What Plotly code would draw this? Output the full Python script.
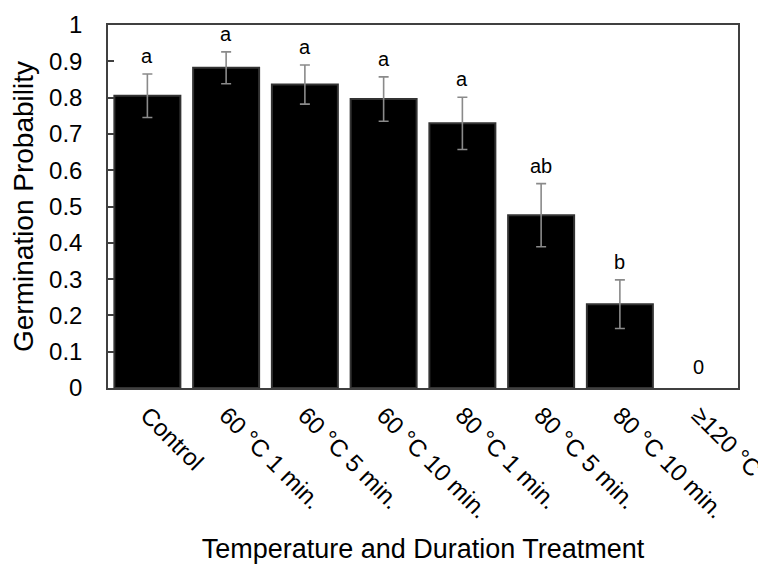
import plotly.graph_objects as go

categories = ["Control", "60 °C 1 min.", "60 °C 5 min.", "60 °C 10 min.",
              "80 °C 1 min.", "80 °C 5 min.", "80 °C 10 min.", "≥120 °C"]
germination = [0.805, 0.882, 0.836, 0.796, 0.729, 0.476, 0.231, 0.0]
std_err = [0.060, 0.044, 0.054, 0.061, 0.072, 0.087, 0.067, None]
letters = ["a", "a", "a", "a", "a", "ab", "b", "0"]
y_ticks = [0, 0.1, 0.2, 0.3, 0.4, 0.5, 0.6, 0.7, 0.8, 0.9, 1]
y_tick_text = ["0", "0.1", "0.2", "0.3", "0.4", "0.5", "0.6", "0.7", "0.8", "0.9", "1"]

FONT = "Liberation Sans, Arial, sans-serif"

fig = go.Figure()
fig.add_trace(go.Bar(
    x=categories,
    y=germination,
    marker=dict(color="black",
                line=dict(color="#333333",
                          width=[2 if v > 0 else 0 for v in germination])),
    showlegend=False,
))

# error bars only where a standard error exists
err_idx = [i for i, e in enumerate(std_err) if e is not None]
fig.add_trace(go.Scatter(
    x=[categories[i] for i in err_idx],
    y=[germination[i] for i in err_idx],
    mode="markers",
    marker=dict(size=1, opacity=0),
    error_y=dict(type="data", array=[std_err[i] for i in err_idx], visible=True,
                 color="#8a8a8a", thickness=1.6, width=5),
    showlegend=False, hoverinfo="skip",
))

for cat, v, e, lab in zip(categories, germination, std_err, letters):
    top = v + (e or 0)
    fig.add_annotation(x=cat, y=top, text=lab, showarrow=False,
                       yanchor="bottom", yshift=5 if e else 8,
                       font=dict(family=FONT, size=20, color="black"))

fig.update_layout(
    width=766, height=566,
    margin=dict(l=100, r=36, t=17, b=186),
    paper_bgcolor="white", plot_bgcolor="white",
    bargap=0.162,
    font=dict(family=FONT, color="black"),
    xaxis=dict(
        tickangle=45,
        tickfont=dict(family=FONT, size=24, color="black"),
        showline=True, linecolor="#404040", linewidth=1.5, mirror=True,
        ticks="", showgrid=False,
        ticklabelstandoff=2,
        title=dict(text="Temperature and Duration Treatment",
                   font=dict(family=FONT, size=27, color="black"), standoff=17),
        automargin=False,
    ),
    yaxis=dict(
        range=[0, 1],
        tickvals=y_ticks, ticktext=y_tick_text,
        tickfont=dict(family=FONT, size=24, color="black"),
        showline=True, linecolor="#404040", linewidth=1.5, mirror=True,
        ticks="inside", ticklen=6, tickcolor="#404040", tickwidth=1.5,
        showgrid=False, zeroline=False,
        ticklabelstandoff=19,
        title=dict(text="Germination Probability",
                   font=dict(family=FONT, size=28, color="black"), standoff=10),
        automargin=False,
    ),
)

fig.write_html("out.html")
